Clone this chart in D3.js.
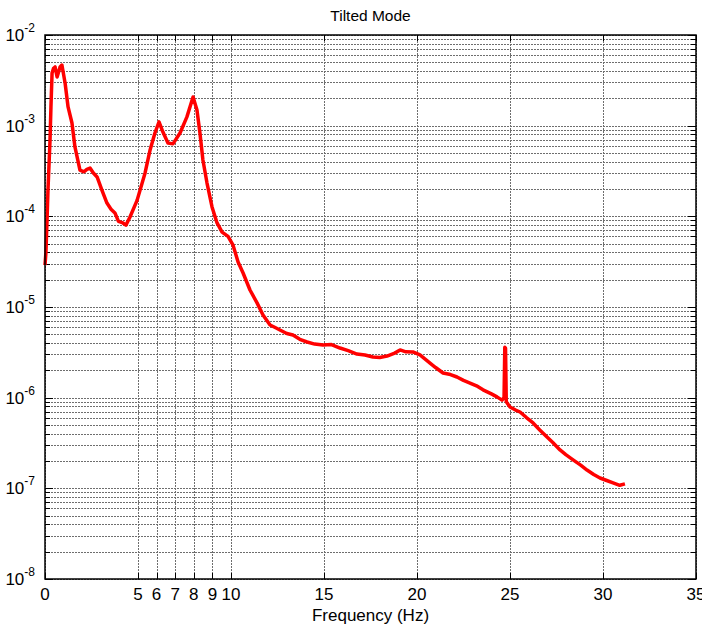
<!DOCTYPE html>
<meta charset="utf-8">
<head>
<title>Tilted Mode</title>
<script src="https://d3js.org/d3.v7.min.js"></script>
<style>
  body { margin: 0; background: #fff; }
  svg text { font-family: "Liberation Sans", Arial, sans-serif; fill: #000; }
</style>
</head>
<body>
<svg id="chart"></svg>
<script>
// frequency (Hz) and PSD values
var freq = [0, 0.05, 0.11, 0.16, 0.27, 0.32, 0.38, 0.46, 0.54, 0.65, 0.73, 0.81, 0.91, 1.08, 1.24, 1.45, 1.61, 1.88, 2.10, 2.25, 2.42,
  2.60, 2.80, 3.06, 3.33, 3.55, 3.76, 3.95, 4.19, 4.35, 4.57, 4.95, 5.38, 5.65, 5.91, 6.13, 6.34, 6.61, 6.88, 7.26, 7.63,
  7.96, 8.17, 8.33, 8.49, 8.71, 8.98, 9.25, 9.52, 9.84, 10.11, 10.38, 10.65, 11.02, 11.40, 11.72, 12.10, 12.40, 12.63, 13.0, 13.33, 13.7, 14.09, 14.5, 14.95,
  15.4, 15.86, 16.3, 16.77, 17.2, 17.63, 18.0, 18.39, 18.8, 19.09, 19.4, 19.78, 20.16, 20.70, 21.0, 21.40, 21.8, 22.15, 22.5, 22.85, 23.2, 23.55, 24.0, 24.30, 24.57, 24.68, 24.72, 24.76, 24.80, 25.0, 25.3, 25.54,
  25.9, 26.24, 26.6, 26.99, 27.3, 27.69, 28.0, 28.39, 28.8, 29.14, 29.5, 29.84, 30.2, 30.54, 30.9, 31.18];
var psd = [2.9e-5, 4.0e-5, 9.1e-5, 1.95e-4, 6.95e-4, 1.61e-3, 3.81e-3, 4.3e-3, 4.44e-3, 3.44e-3, 3.9e-3, 4.44e-3, 4.67e-3, 2.96e-3, 1.61e-3, 1.07e-3, 5.82e-4, 3.24e-4, 3.1e-4, 3.3e-4, 3.41e-4,
  3.0e-4, 2.72e-4, 1.95e-4, 1.40e-4, 1.2e-4, 1.09e-4, 8.8e-5, 8.45e-5, 8.0e-5, 9.84e-5, 1.5e-4, 3.01e-4, 5.40e-4, 8.30e-4, 1.10e-3, 8.51e-4, 6.44e-4, 6.3e-4, 8.30e-4, 1.25e-3,
  2.07e-3, 1.49e-3, 8.3e-4, 4.18e-4, 2.33e-4, 1.27e-4, 8.45e-5, 6.7e-5, 6.0e-5, 4.8e-5, 3.14e-5, 2.37e-5, 1.54e-5, 1.11e-5, 8.16e-6, 6.34e-6, 5.9e-6, 5.57e-6, 5.1e-6, 4.91e-6, 4.4e-6, 4.11e-6, 3.9e-6, 3.81e-6,
  3.85e-6, 3.53e-6, 3.3e-6, 3.03e-6, 2.95e-6, 2.81e-6, 2.78e-6, 2.88e-6, 3.1e-6, 3.36e-6, 3.2e-6, 3.19e-6, 2.96e-6, 2.41e-6, 2.15e-6, 1.87e-6, 1.8e-6, 1.69e-6, 1.55e-6, 1.45e-6, 1.35e-6, 1.22e-6, 1.1e-6, 1.02e-6, 9.4e-7, 1.0e-6, 3.6e-6, 3.5e-6, 9.0e-7, 7.9e-7, 7.3e-7, 6.95e-7,
  6.0e-7, 5.26e-7, 4.4e-7, 3.68e-7, 3.2e-7, 2.65e-7, 2.35e-7, 2.06e-7, 1.8e-7, 1.59e-7, 1.42e-7, 1.30e-7, 1.22e-7, 1.15e-7, 1.08e-7, 1.12e-7];

var xTicks = [0, 5, 6, 7, 8, 9, 10, 15, 20, 25, 30, 35];
var yExponents = [-8, -7, -6, -5, -4, -3, -2];

var W = 702, H = 628;
var margin = {top: 35, right: 6, bottom: 49, left: 45};
var width = W - margin.left - margin.right;
var height = H - margin.top - margin.bottom;

var x = d3.scaleLinear().domain([0, 35]).range([0, width]);
var y = d3.scaleLog().domain([1e-8, 1e-2]).range([height, 0]);

var svg = d3.select("#chart").attr("width", W).attr("height", H);
var g = svg.append("g").attr("transform", "translate(" + margin.left + "," + margin.top + ")");

// minor + major values for the log grid
var yGrid = [];
yExponents.forEach(function(e) {
  if (e == -2) { yGrid.push(1e-2); return; }
  for (var k = 1; k <= 9; k++) yGrid.push(k * Math.pow(10, e));
});

// grid
g.selectAll(".hgrid").data(yGrid).enter().append("line")
  .attr("class", "hgrid")
  .attr("x1", 0).attr("x2", width)
  .attr("y1", function(d) { return Math.round(y(d)) + 0.5; })
  .attr("y2", function(d) { return Math.round(y(d)) + 0.5; })
  .style("stroke", "#6e6e6e").style("stroke-width", 1).style("stroke-dasharray", "2,1");

g.selectAll(".vgrid").data(xTicks).enter().append("line")
  .attr("class", "vgrid")
  .attr("y1", 0).attr("y2", height)
  .attr("x1", function(d) { return Math.round(x(d)) + 0.5; })
  .attr("x2", function(d) { return Math.round(x(d)) + 0.5; })
  .style("stroke", "#6e6e6e").style("stroke-width", 1).style("stroke-dasharray", "2,1");

// tick marks (inward, on all sides)
var tickLen = 6;
xTicks.forEach(function(d) {
  var px = Math.round(x(d)) + 0.5;
  g.append("line").attr("x1", px).attr("x2", px).attr("y1", height).attr("y2", height - tickLen)
    .style("stroke", "#000");
  g.append("line").attr("x1", px).attr("x2", px).attr("y1", 0).attr("y2", tickLen)
    .style("stroke", "#000");
});
yGrid.forEach(function(d) {
  var py = Math.round(y(d)) + 0.5;
  var major = Math.abs(Math.log10(d) - Math.round(Math.log10(d))) < 1e-9;
  var len = major ? 8 : 5;
  g.append("line").attr("x1", 0).attr("x2", len).attr("y1", py).attr("y2", py).style("stroke", "#000");
  g.append("line").attr("x1", width).attr("x2", width - len).attr("y1", py).attr("y2", py).style("stroke", "#000");
});

// data line
var line = d3.line()
  .x(function(d, i) { return x(freq[i]); })
  .y(function(d) { return y(d); });

g.append("path")
  .datum(psd)
  .attr("d", line)
  .style("fill", "none")
  .style("stroke", "#ff0000")
  .style("stroke-width", 3.5)
  .style("stroke-linejoin", "round");

// box
g.append("rect").attr("x", 0).attr("y", 0).attr("width", width).attr("height", height)
  .style("fill", "none").style("stroke", "#000").style("stroke-width", 1.5);

// x tick labels
g.selectAll(".xlab").data(xTicks).enter().append("text")
  .attr("class", "xlab")
  .attr("x", function(d) { return x(d); })
  .attr("y", height + 21)
  .attr("text-anchor", "middle")
  .style("font-size", "17px")
  .text(function(d) { return d; });

// y tick labels 10^n
var ylab = g.selectAll(".ylab").data(yExponents).enter().append("text")
  .attr("class", "ylab")
  .attr("x", -10)
  .attr("y", function(d) { return y(Math.pow(10, d)) + 6; })
  .attr("text-anchor", "end")
  .style("font-size", "17px");
ylab.append("tspan").text("10");
ylab.append("tspan").attr("dy", -9).style("font-size", "12px").text(function(d) { return "-" + Math.abs(d); });

// title and axis label
svg.append("text")
  .attr("x", margin.left + width / 2)
  .attr("y", 21)
  .attr("text-anchor", "middle")
  .style("font-size", "15.5px")
  .text("Tilted Mode");

svg.append("text")
  .attr("x", margin.left + width / 2)
  .attr("y", 621)
  .attr("text-anchor", "middle")
  .style("font-size", "17px")
  .text("Frequency (Hz)");
</script>
</body>
